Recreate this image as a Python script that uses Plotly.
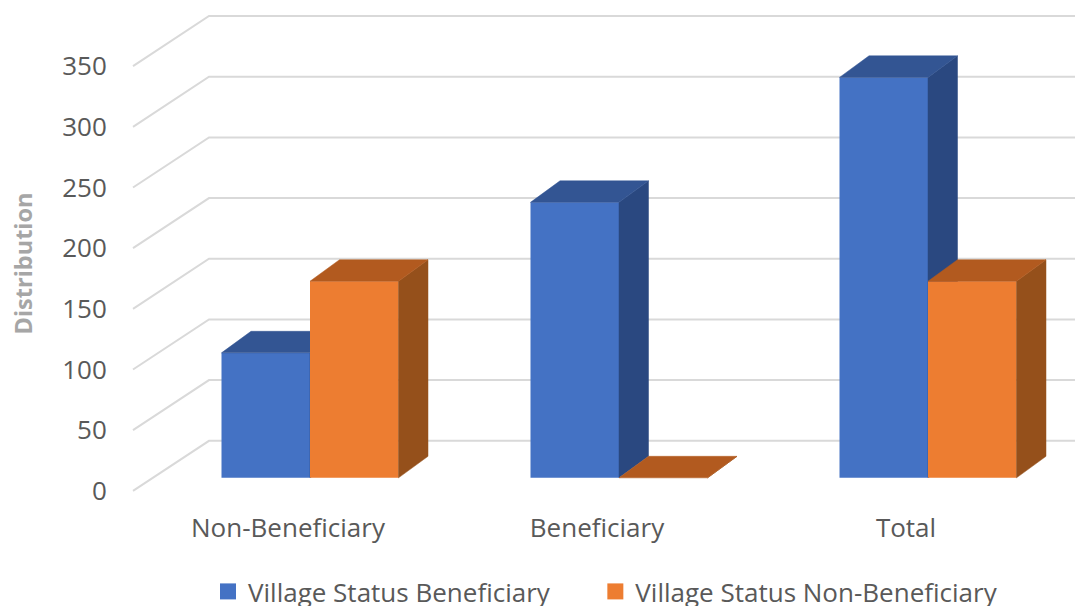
import plotly.graph_objects as go

categories = ["Non-Beneficiary", "Beneficiary", "Total"]
series_names = ["Village Status Beneficiary", "Village Status Non-Beneficiary"]
beneficiary = [103, 227, 330]
non_beneficiary = [162, 0, 162]
tick_values = [0, 50, 100, 150, 200, 250, 300, 350]

W, H = 1075, 606
LEGEND_TOP = 568       # legend is placed in the container and reserves the space below it
PLOT_AREA_H = LEGEND_TOP - 8
PLOT_BOTTOM = 500
L = 115
PX_PER_CAT = 309.0
CENTER0 = 310.0
PX_PER_UNIT = 1.2114
Y0_GRID = 490.0
Y0_BARS = 477.0
BAR_W = 88.5 / PX_PER_CAT
DX = 29.5 / PX_PER_CAT
DY = 21.5 / PX_PER_UNIT
WALL_DX = 76.0 / PX_PER_CAT
WALL_DY = 50.0 / PX_PER_UNIT
WALL_X = (133.0 - CENTER0) / PX_PER_CAT
LABEL_SHIFT = 22.0 / PX_PER_CAT

x_range = [(L - CENTER0) / PX_PER_CAT, (W - CENTER0) / PX_PER_CAT]
y_domain = [1 - PLOT_BOTTOM / PLOT_AREA_H, 1]


def y_range(y0):
    return [(y0 - PLOT_BOTTOM) / PX_PER_UNIT, y0 / PX_PER_UNIT]


def paper_x(px):
    return (px - L) / (W - L)


def paper_y(py):
    return 1 - py / PLOT_AREA_H


GRID = "#d9d9d9"
TEXT = "#595959"
STYLE = [
    dict(front="#4472C4", top="#335593", side="#2A4880", xa="x2", ya="y2"),
    dict(front="#ED7D31", top="#B25A1F", side="#95501B", xa="x3", ya="y3"),
]
LEGEND_PAD = ["\u00a0" * 6, ""]

fig = go.Figure()

for v in tick_values:
    fig.add_trace(go.Scatter(
        x=[WALL_X, WALL_X + WALL_DX, x_range[1]],
        y=[v, v + WALL_DY, v + WALL_DY],
        mode="lines", line=dict(color=GRID, width=2),
        showlegend=False, hoverinfo="skip", xaxis="x", yaxis="y",
    ))


def poly(xs, ys, color, st):
    fig.add_trace(go.Scatter(
        x=xs, y=ys, mode="lines", fill="toself", fillcolor=color,
        line=dict(color=color, width=0.5), showlegend=False, hoverinfo="skip",
        xaxis=st["xa"], yaxis=st["ya"],
    ))


for name, values, st, left, pad in zip(series_names, [beneficiary, non_beneficiary], STYLE, [-BAR_W, 0.0], LEGEND_PAD):
    centers = list(range(len(categories)))
    fig.add_trace(go.Bar(
        x=centers, y=values, name=name, width=BAR_W, offset=left,
        marker=dict(color=st["front"], line=dict(width=0)), showlegend=False,
        xaxis=st["xa"], yaxis=st["ya"],
    ))
    for c, v in zip(centers, values):
        x0 = c + left
        x1 = x0 + BAR_W
        poly([x1, x1 + DX, x1 + DX, x1, x1], [0, DY, v + DY, v, 0], st["side"], st)
        poly([x0, x1, x1 + DX, x0 + DX, x0], [v, v, v + DY, v + DY, v], st["top"], st)
    fig.add_trace(go.Scatter(
        x=[None], y=[None], name=name + pad, mode="markers",
        marker=dict(symbol="square", size=16, color=st["front"]),
        xaxis="x", yaxis="y", hoverinfo="skip",
    ))

font = "Open Sans"
axis_hidden = dict(visible=False, fixedrange=True)
fig.update_layout(
    width=W, height=H, autosize=False,
    margin=dict(l=L, r=0, t=0, b=0, pad=0),
    paper_bgcolor="white", plot_bgcolor="white",
    barmode="overlay",
    font=dict(family=font, color=TEXT, size=26),
    showlegend=True,
    legend=dict(orientation="h", x=paper_x(208), xref="paper", xanchor="left",
                y=1 - LEGEND_TOP / H, yref="container", yanchor="top",
                font=dict(size=26, color=TEXT), itemwidth=30, traceorder="normal",
                bgcolor="rgba(0,0,0,0)"),
    xaxis=dict(range=x_range, tickmode="array",
               tickvals=[i - LABEL_SHIFT for i in range(len(categories))], ticktext=categories,
               showgrid=False, zeroline=False, showline=False, ticks="outside", ticklen=4,
               tickcolor="rgba(0,0,0,0)", tickfont=dict(size=26, color=TEXT)),
    yaxis=dict(range=y_range(Y0_GRID), domain=y_domain, tickmode="array", tickvals=tick_values,
               showgrid=False, zeroline=False, showline=False, ticks="outside", ticklen=2,
               tickcolor="rgba(0,0,0,0)", tickfont=dict(size=26, color=TEXT)),
    xaxis2=dict(range=x_range, overlaying="x", anchor="y2", **axis_hidden),
    yaxis2=dict(range=y_range(Y0_BARS), domain=y_domain, overlaying="y", anchor="x2", **axis_hidden),
    xaxis3=dict(range=x_range, overlaying="x", anchor="y3", **axis_hidden),
    yaxis3=dict(range=y_range(Y0_BARS), domain=y_domain, overlaying="y", anchor="x3", **axis_hidden),
    annotations=[dict(text="<b>Distribution</b>", textangle=-90, showarrow=False,
                      xref="paper", yref="paper", x=paper_x(23), y=paper_y(263),
                      xanchor="center", yanchor="middle",
                      font=dict(size=23.5, color="#a6a6a6", family=font))],
)

fig.write_html("out.html", config=dict(displayModeBar=False),
               post_script="document.body.style.margin='0';")
